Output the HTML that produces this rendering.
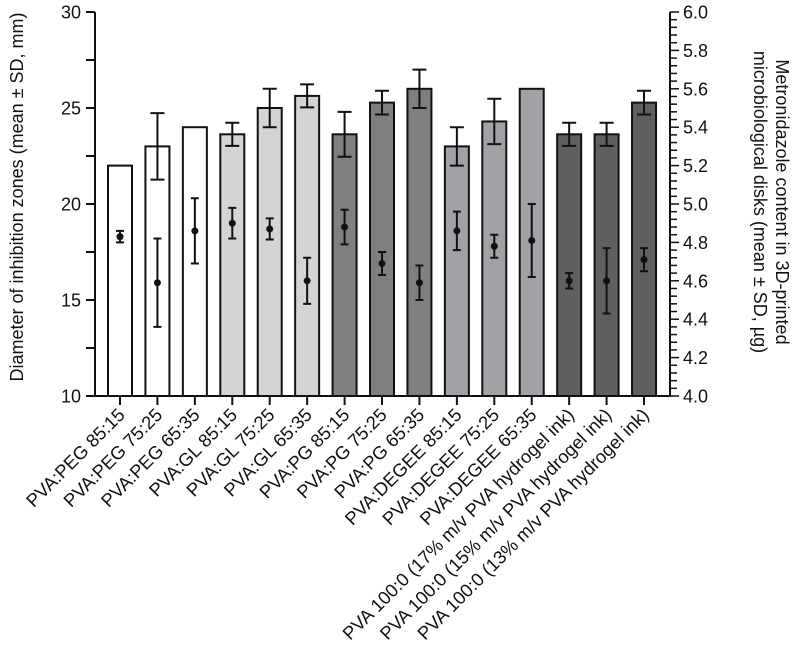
<!DOCTYPE html>
<html><head><meta charset="utf-8"><style>
body{margin:0;background:#fff}
svg{display:block;font-family:"Liberation Sans",Arial,sans-serif}
</style></head><body>
<svg id="chart" width="800" height="657" viewBox="0 0 800 657" xmlns="http://www.w3.org/2000/svg">
<g id="axes"></g><g id="bars"></g><g id="points"></g><g id="labels"></g>
<text transform="translate(23,197) rotate(-90)" text-anchor="middle" font-size="18" fill="#111">Diameter of inhibition zones (mean ± SD, mm)</text>
<text transform="translate(776,202) rotate(90)" text-anchor="middle" font-size="18" fill="#111">Metronidazole content in 3D-printed</text>
<text transform="translate(754,202) rotate(90)" text-anchor="middle" font-size="18" fill="#111">microbiological disks (mean ± SD, µg)</text>
</svg>
<script>
const categories=["PVA:PEG 85:15","PVA:PEG 75:25","PVA:PEG 65:35","PVA:GL 85:15","PVA:GL 75:25","PVA:GL 65:35","PVA:PG 85:15","PVA:PG 75:25","PVA:PG 65:35","PVA:DEGEE 85:15","PVA:DEGEE 75:25","PVA:DEGEE 65:35","PVA 100:0 (17% m/v PVA hydrogel ink)","PVA 100:0 (15% m/v PVA hydrogel ink)","PVA 100:0 (13% m/v PVA hydrogel ink)"];
const zoneMean=[22,23,24,23.63,25,25.63,23.63,25.28,26,23,24.3,26,23.63,23.63,25.28];
const zoneSD=[0,1.73,0,0.6,1,0.6,1.17,0.62,1,1,1.18,0,0.6,0.6,0.62];
const contentMean=[4.83,4.59,4.86,4.90,4.87,4.60,4.88,4.69,4.59,4.86,4.78,4.81,4.60,4.60,4.71];
const contentSD=[0.03,0.23,0.17,0.08,0.055,0.12,0.09,0.06,0.09,0.1,0.06,0.19,0.04,0.17,0.06];
const barColors=["#ffffff","#ffffff","#ffffff","#d4d4d4","#d4d4d4","#d4d4d4","#7f7f7f","#7f7f7f","#7f7f7f","#a2a2a6","#a2a2a6","#a2a2a6","#5f5f5f","#5f5f5f","#5f5f5f"];
const leftTicks=[10,15,20,25,30];
const rightTicks=[4.0,4.2,4.4,4.6,4.8,5.0,5.2,5.4,5.6,5.8,6.0];

const NS="http://www.w3.org/2000/svg";
const X0=95,X1=670,Y0=396,Y1=12;
const yL=v=>Y0-(v-10)/(30-10)*(Y0-Y1);
const yR=v=>Y0-(v-4)/(6-4)*(Y0-Y1);
const xC=i=>120+i*37.43;
function mk(tag,attrs,parent){const e=document.createElementNS(NS,tag);for(const k in attrs)e.setAttribute(k,attrs[k]);document.getElementById(parent).appendChild(e);return e;}
const S="#111";
let a=mk('line',{x1:X0,y1:Y1,x2:X0,y2:Y0,stroke:S,'stroke-width':2},'axes');


a=mk('line',{x1:X1,y1:Y1,x2:X1,y2:Y0,stroke:S,'stroke-width':2},'axes');


a=mk('line',{x1:X0-1,y1:Y0,x2:X1+1,y2:Y0,stroke:S,'stroke-width':2},'axes');


for(let v=10;v<=30;v+=2.5){mk('line',{x1:X0-9,y1:yL(v),x2:X0,y2:yL(v),stroke:S,'stroke-width':2},'axes');}
leftTicks.forEach(v=>{const t=mk('text',{x:X0-14,y:yL(v)+6.5,'text-anchor':'end','font-size':18,fill:S},'axes');t.textContent=v;

});
for(let k=0;k<=50;k++){const v=4+k*0.04;const maj=k%5==0;mk('line',{x1:X1,y1:yR(v),x2:X1+(maj?9:7),y2:yR(v),stroke:S,'stroke-width':1.5},'axes');}
rightTicks.forEach(v=>{const t=mk('text',{x:X1+13,y:yR(v)+6.5,'font-size':18,fill:S},'axes');t.textContent=v.toFixed(1);

});
categories.forEach((c,i)=>{
 const x=xC(i),top=yL(zoneMean[i]);
 const r=mk('rect',{x:x-12,y:top,width:24,height:Y0-top,fill:barColors[i],stroke:S,'stroke-width':2},'bars');
 
 
 if(zoneSD[i]>0){const hi=yL(zoneMean[i]+zoneSD[i]),lo=yL(zoneMean[i]-zoneSD[i]);
  const g=mk('path',{d:`M${x},${hi}V${lo}M${x-7},${hi}H${x+7}M${x-7},${lo}H${x+7}`,stroke:S,'stroke-width':2,fill:'none'},'bars');
  
  }
 mk('line',{x1:x,y1:Y0,x2:x,y2:Y0+9,stroke:S,'stroke-width':2},'axes');
 const px=x,py=yR(contentMean[i]),ph=yR(contentMean[i]+contentSD[i]),pl=yR(contentMean[i]-contentSD[i]);
 const e=mk('path',{d:`M${px},${ph}V${pl}M${px-4},${ph}H${px+4}M${px-4},${pl}H${px+4}`,stroke:S,'stroke-width':2,fill:'none'},'points');
 
 
 const p=mk('circle',{cx:px,cy:py,r:3.5,fill:S},'points');
 
 
 const t=mk('text',{transform:`translate(${x+6},${Y0+20}) rotate(-45)`,'text-anchor':'end','font-size':18.4,fill:S},'labels');
 t.textContent=c;
 
 
});
</script>
</body></html>
